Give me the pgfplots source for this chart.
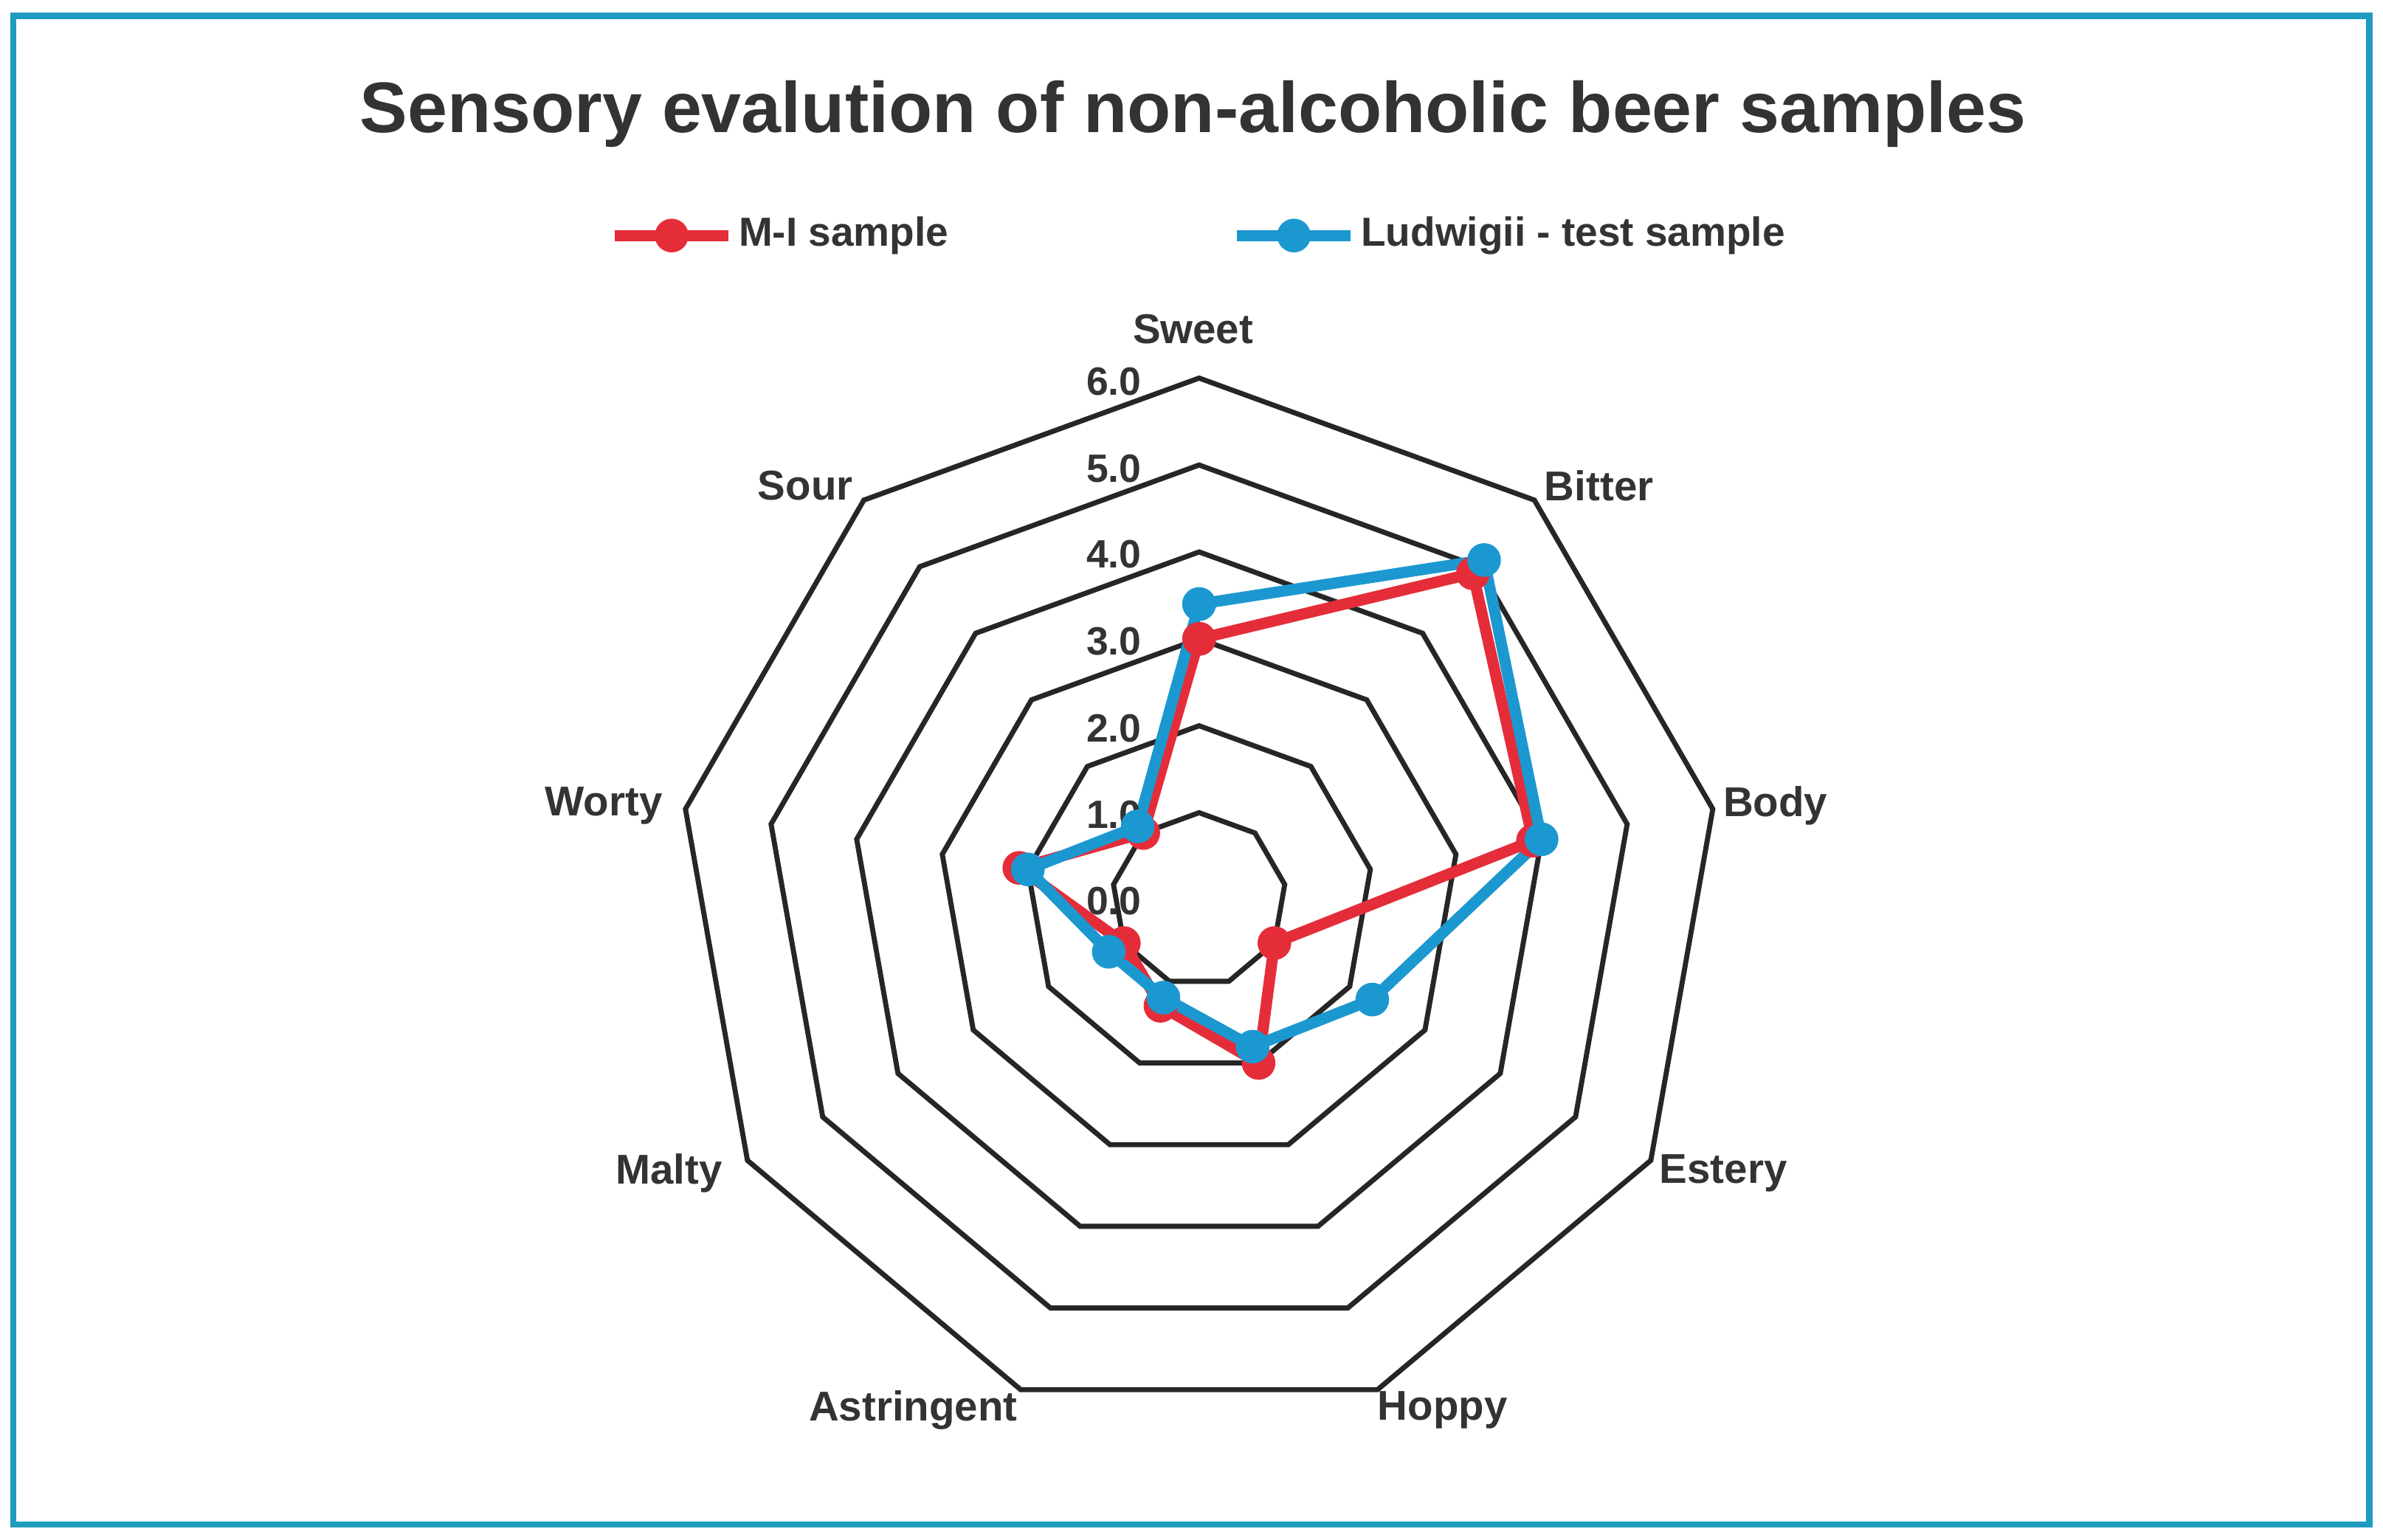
\documentclass[border=0pt]{standalone}
\usepackage{pgfplots}
\pgfplotsset{compat=1.18}
\usepackage{fontspec}
\setmainfont{Liberation Sans}
\definecolor{mired}{RGB}{229,45,58}
\definecolor{ludblue}{RGB}{28,152,208}
\definecolor{frame}{RGB}{30,155,190}
\definecolor{ring}{RGB}{38,38,38}
\definecolor{txt}{RGB}{51,51,51}
\begin{document}
\begin{tikzpicture}
\begin{axis}[
  scale only axis, width=156.8mm, height=101.3mm,
  xmin=-13.794, xmax=13.619, ymin=-7.360, ymax=10.350,
  hide axis, clip=false,
  legend columns=2,
  legend style={draw=none, fill=none, at={(axis cs:-6.80,7.64)}, anchor=west,
    inner sep=0pt, font=\fontsize{7.6}{9}\selectfont\bfseries, text=txt,
    /tikz/every even column/.append style={column sep=18.3mm},
    nodes={inner xsep=0.3mm, inner ysep=0pt}},
  legend image code/.code={\draw[mark repeat=2,mark phase=2] plot coordinates {(0mm,0mm)(3.75mm,0mm)(7.5mm,0mm)};},
]
\path (rel axis cs:0,0) rectangle (rel axis cs:1,1);
\draw[frame, line width=1.2pt] (axis cs:-13.64,-7.19) rectangle (axis cs:13.46,10.17);
% grid rings
\pgfplotsinvokeforeach{1,...,6}{
  \addplot[ring, line width=0.95pt, line join=miter, data cs=polar, forget plot]
    coordinates {(90,#1)(50,#1)(10,#1)(-30,#1)(-70,#1)(-110,#1)(-150,#1)(170,#1)(130,#1)(90,#1)(50,#1)};
}
% data: angle = category direction, radius = score
% Sweet 90, Bitter 50, Body 10, Estery -30, Hoppy -70, Astringent -110, Malty -150, Worty 170, Sour 130
\addplot[mired, line width=2.1pt, line join=round, mark=*, mark size=2.1pt, mark options={solid, fill=mired}, data cs=polar]
  coordinates {(90,3.0)(50,4.9)(10,3.9)(-30,1.0)(-70,2.0)(-110,1.3)(-150,1.0)(170,2.1)(130,1.0)(90,3.0)};
\addlegendentry{M-I sample}
\addplot[ludblue, line width=2.1pt, line join=round, mark=*, mark size=2.1pt, mark options={solid, fill=ludblue}, data cs=polar]
  coordinates {(90,3.4)(50,5.1)(10,4.0)(-30,2.3)(-70,1.8)(-110,1.2)(-150,1.2)(170,2.0)(130,1.1)(90,3.4)};
\addlegendentry{Ludwigii - test sample}
% title
\node[text=txt, font=\fontsize{13.4}{16}\selectfont\bfseries] at (axis cs:-0.07,9.04) {Sensory evalution of non-alcoholic beer samples};
% category labels
\begin{scope}[every node/.style={text=txt, font=\fontsize{7.8}{9}\selectfont\bfseries}]
\node at (axis cs:-0.07,6.56) {Sweet};
\node at (axis cs:4.60,4.76) {Bitter};
\node at (axis cs:6.63,1.08) {Body};
\node at (axis cs:6.03,-3.15) {Estery};
\node at (axis cs:2.80,-5.87) {Hoppy};
\node at (axis cs:-3.29,-5.87) {Astringent};
\node at (axis cs:-6.10,-3.15) {Malty};
\node at (axis cs:-6.85,1.08) {Worty};
\node at (axis cs:-4.53,4.76) {Sour};
\end{scope}
% radial tick labels
\begin{scope}[every node/.style={text=txt, font=\fontsize{7.4}{9}\selectfont\bfseries}]
\node at (axis cs:-0.98,-0.02) {0.0};
\node at (axis cs:-0.98,0.98) {1.0};
\node at (axis cs:-0.98,1.97) {2.0};
\node at (axis cs:-0.98,2.97) {3.0};
\node at (axis cs:-0.98,3.97) {4.0};
\node at (axis cs:-0.98,4.96) {5.0};
\node at (axis cs:-0.98,5.96) {6.0};
\end{scope}
\end{axis}
\end{tikzpicture}
\end{document}
